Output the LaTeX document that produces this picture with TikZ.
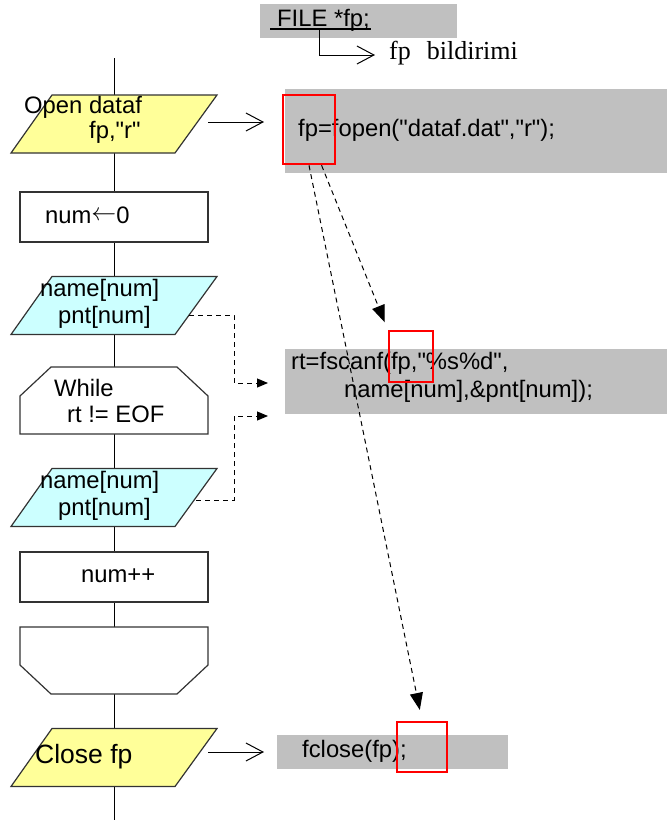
\documentclass[tikz,border=0pt]{standalone}
\usepackage{fontspec}
\setmainfont{Liberation Sans}[Ligatures=TeXOff]
\newfontfamily\timesfont{Liberation Serif}
\usetikzlibrary{arrows.meta,calc}
\definecolor{ioyellow}{HTML}{FFFF99}
\definecolor{iocyan}{HTML}{CCFFFF}
\definecolor{codegray}{HTML}{C0C0C0}
\definecolor{outline}{HTML}{333333}
\begin{document}
\begin{tikzpicture}[x=1pt,y=-1pt,
  iopar/.pic={
    \path[draw=outline, line width=1.2pt, pic actions]
      (-62,-29) -- (103,-29) -- (61,29) -- (-103,29) -- cycle;
    \coordinate (-c) at (0,0);
  },
  loopstart/.pic={
    \path[draw=outline, fill=white, line width=1.2pt]
      (-63,-33.5) -- (63,-33.5) -- (94,-4.5) -- (94,33.5) -- (-94,33.5) -- (-94,-4.5) -- cycle;
    \coordinate (-c) at (0,0);
  },
  loopstop/.pic={
    \path[draw=outline, fill=white, line width=1.2pt]
      (-94,-33.5) -- (94,-33.5) -- (94,4.5) -- (63,33.5) -- (-63,33.5) -- (-94,4.5) -- cycle;
    \coordinate (-c) at (0,0);
  },
  procbox/.style={rectangle, minimum width=188pt, minimum height=50pt,
    inner sep=0pt, draw=outline, fill=white, line width=1.2pt},
  codebox/.style={rectangle, fill=codegray, inner sep=0pt},
  hilite/.style={rectangle, draw=red, line width=2.6pt, inner sep=0pt},
  txt/.style={anchor=base west, inner sep=0pt, font=\fontsize{23.8}{28}\selectfont},
  spine/.style={line width=1pt},
  flow/.style={line width=1pt, -{Straight Barb[length=17pt,width=18pt,line width=1pt]}},
  ref/.style={line width=1pt, dash pattern=on 5pt off 4pt, -{Triangle[length=17pt,width=13pt]}},
  link/.style={line width=1pt, dash pattern=on 5pt off 4pt, -{Triangle[length=11pt,width=9pt]}}
]
\useasboundingbox (0,0) rectangle (667,820);

% grey code panels
\node[codebox, minimum width=197pt, minimum height=34pt] (declbox) at (358.5,21) {};
\node[codebox, minimum width=382pt, minimum height=84pt] (openbox) at (476,131) {};
\node[codebox, minimum width=382pt, minimum height=65pt] (scanbox) at (476,381.5) {};
\node[codebox, minimum width=231pt, minimum height=34pt] (closebox) at (392.5,752) {};

% main flow line, drawn behind the filled shapes
\coordinate (top) at (114,58);
\coordinate (bottom) at (114,820);
\draw[spine] (top) -- (bottom);

% flowchart shapes
\pic[fill=ioyellow] (open) at (114,124) {iopar};
\node[procbox] (init) at (114,217) {};
\pic[fill=iocyan] (read1) at (114,305.5) {iopar};
\pic (loop) at (114,400.5) {loopstart};
\pic[fill=iocyan] (read2) at (114,497.5) {iopar};
\node[procbox] (incr) at (114,577) {};
\pic (loopend) at (114,660.5) {loopstop};
\pic[fill=ioyellow] (close) at (114,757.5) {iopar};

% flowchart labels
\node[txt] (openL1) at (24,113) {Open dataf};
\node[txt] (openL2) at (89,138) {fp,"r"};
\node[txt] (initT) at (45,223) {num\raisebox{2.5pt}{$\leftarrow$}0};
\node[txt] (r1a) at (40,296) {name[num]};
\node[txt] (r1b) at (58,323) {pnt[num]};
\node[txt] (wh1) at (54,396) {While};
\node[txt] (wh2) at (67,422) {rt != EOF};
\node[txt] (r2a) at (40,488) {name[num]};
\node[txt] (r2b) at (58,515) {pnt[num]};
\node[txt] (incT) at (81,582) {num++};
\node[txt, font=\fontsize{26.5}{30}\selectfont] (closeL) at (35,763) {Close fp};

% C code
\node[txt] (declT) at (277,26) {FILE *fp;};
\draw[line width=1.5pt] ($(declT.base west)+(-7,3)$) -- ($(declT.base east)+(1,3)$);
\node[anchor=base west, inner sep=0pt, font=\timesfont\fontsize{26}{30}\selectfont]
  (bild) at (389,59) {fp\hspace{16pt}bildirimi};
\node[txt] (openT) at (298,136) {fp=fopen("dataf.dat","r");};
\node[txt] (scanT1) at (291,369) {rt=fscanf(fp,"\%s\%d",};
\node[txt] (scanT2) at (344,397) {name[num],\&pnt[num]);};
\node[txt] (closeT) at (302,757) {fclose(fp);};

% highlighted file pointer
\node[hilite, minimum width=52pt, minimum height=69pt] (h1) at (309,129.5) {};
\node[hilite, minimum width=44pt, minimum height=51pt] (h2) at (411,356.5) {};
\node[hilite, minimum width=50pt, minimum height=50pt] (h3) at (422,747) {};

% solid arrows
\coordinate (ul) at (319,30);
\coordinate (bildarrow) at (375,55);
\draw[flow] (ul) -- (ul |- bildarrow) -- (bildarrow);
\coordinate (a1s) at (208,122);
\coordinate (a1e) at (264,122);
\draw[flow] (a1s) -- (a1e);
\coordinate (a2s) at (208,752);
\coordinate (a2e) at (264,752);
\draw[flow] (a2s) -- (a2e);

% dashed references
\draw[ref, shorten >=8pt] ($(h1.south)!0.46!(h1.south east)$) -- (h2.north west);
\draw[ref, shorten >=11pt] (h1.south) -- (h3.north);
\coordinate (l1s) at (189,315);
\coordinate (l1e) at (268,383);
\draw[link] (l1s) -- ++(45,0) |- (l1e);
\coordinate (l2s) at (196,500);
\coordinate (l2e) at (268,416);
\draw[link] (l2s) -- ++(38,0) |- (l2e);
\end{tikzpicture}
\end{document}
